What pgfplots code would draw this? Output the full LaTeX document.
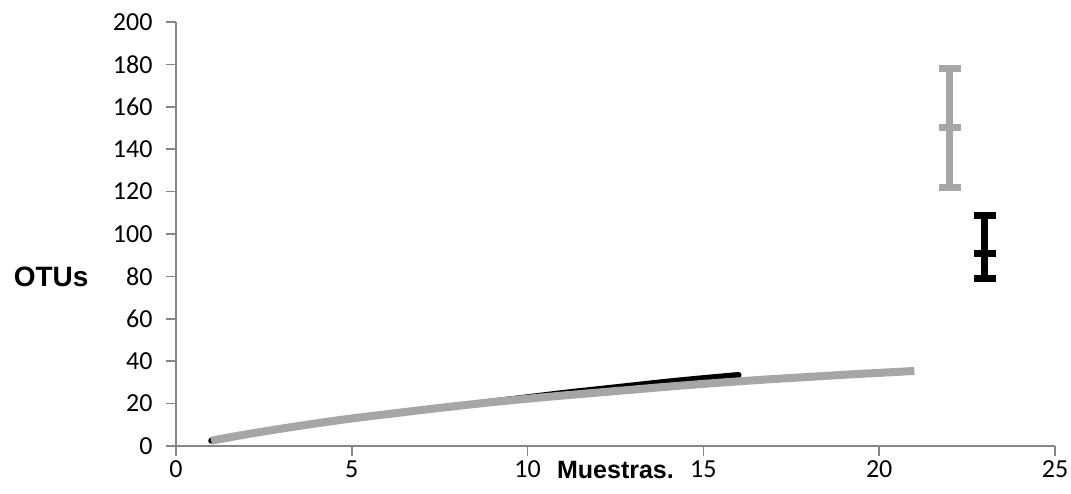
\documentclass[border=0pt]{standalone}
\usepackage{fontspec}
\setmainfont{Carlito}
\newfontfamily\arialb{Liberation Sans}[UprightFont=*-Bold]
\usepackage{pgfplots}
\pgfplotsset{compat=1.18}
\definecolor{axgray}{HTML}{868686}
\definecolor{lgray}{HTML}{A6A6A6}
\begin{document}
\begin{tikzpicture}[x=1pt,y=1pt]
\path[use as bounding box] (-176,-47) rectangle (895,446);
\begin{axis}[
  at={(0,0)}, anchor=south west,
  scale only axis, width=879pt, height=424pt,
  xmin=0, xmax=25, ymin=0, ymax=200,
  xtick={0,5,...,25}, ytick={0,20,...,200},
  axis x line=bottom, axis y line=left,
  axis line style={-, draw=axgray, line width=1.5pt},
  tick style={draw=axgray, line width=1.5pt},
  tick align=outside, major tick length=10pt,
  /pgf/number format/assume math mode=true,
  ticklabel style={font=\fontsize{26}{31}\selectfont, text=black},
  xticklabel style={yshift=-1pt},
  yticklabel style={xshift=-10pt},
  xlabel={Muestras.}, ylabel={OTUs},
  xlabel style={font=\arialb\fontsize{25}{30}\selectfont, at={(axis description cs:0.5,0)}, anchor=base, yshift=-32pt},
  ylabel style={font=\arialb\fontsize{28}{33}\selectfont, rotate=-90, at={(axis description cs:-0.142,0.40)}, anchor=center},
  clip=false,
]
\addplot[black, line width=6pt, line cap=round, no marks, smooth] coordinates {
(1,2.5) (2,5.5) (3,8) (4,10.5) (5,13) (6,15) (7,17) (8,19) (9,21) (10,23) (11,25) (12,26.8) (13,28.6) (14,30.4) (15,32) (16,33.5)
};
\addplot[lgray, line width=8pt, no marks, smooth] coordinates {
(1,2.5) (2,5.5) (3,8.2) (4,10.7) (5,13) (6,15) (7,17) (8,18.9) (9,20.7) (10,22.3) (11,23.8) (12,25.2) (13,26.6) (14,28) (15,29.3) (16,30.5) (17,31.6) (18,32.6) (19,33.6) (20,34.5) (21,35.4)
};
\addplot[lgray, only marks, mark=-, mark size=11pt, mark options={line width=7pt},
  error bars/.cd, y dir=both, y explicit, error mark=|,
  error bar style={line width=7pt, lgray},
  error mark options={lgray, line width=7pt, mark size=11pt}]
  coordinates {(22,150) +- (0,28)};
\addplot[black, only marks, mark=-, mark size=11pt, mark options={line width=7pt},
  error bars/.cd, y dir=both, y explicit, error mark=|,
  error bar style={line width=7pt, black},
  error mark options={black, line width=7pt, mark size=11pt}]
  coordinates {(23,91) += (0,17.5) -= (0,12)};
\end{axis}
\end{tikzpicture}
\end{document}
